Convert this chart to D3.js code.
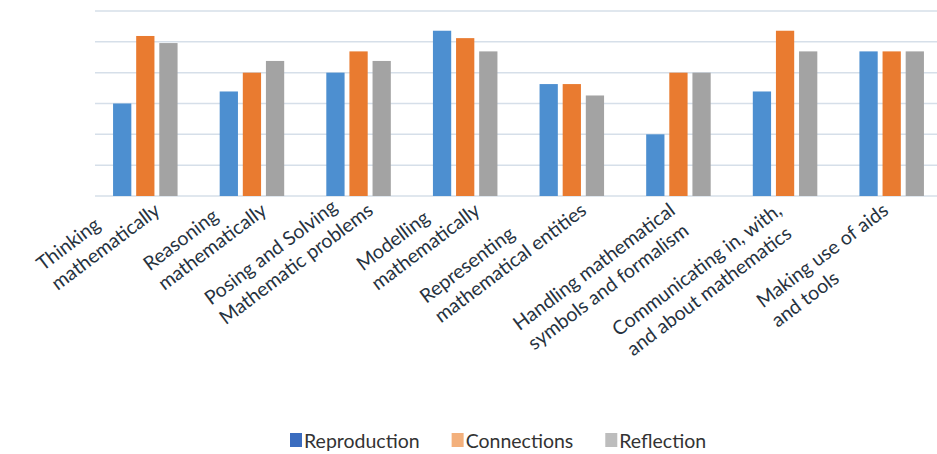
<!DOCTYPE html>
<html>
<head>
<meta charset="utf-8">
<script src="https://cdn.jsdelivr.net/npm/d3@7"></script>
<style>
  body { margin: 0; background: #fff; }
  svg { display: block; font-family: Lato, "Liberation Sans", sans-serif; }
</style>
</head>
<body>
<svg id="chart" width="937" height="454"></svg>
<script>
// categories (line breaks as in the original labels)
var categories = [
  "Thinking\nmathematically",
  "Reasoning\nmathematically",
  "Posing and Solving\nMathematic problems",
  "Modelling\nmathematically",
  "Representing\nmathematical entities",
  "Handling mathematical\nsymbols and formalism",
  "Communicating in, with,\nand about mathematics",
  "Making use of aids\nand tools"
];
var seriesNames = ["Reproduction", "Connections", "Reflection"];

// values in gridline units (no axis labels in the original)
var reproduction = [3.0, 3.39, 4.0, 5.36, 3.63, 2.0, 3.39, 4.69];
var connections  = [5.19, 4.0, 4.69, 5.12, 3.63, 4.0, 5.36, 4.69];
var reflection   = [4.96, 4.38, 4.38, 4.69, 3.26, 4.0, 4.69, 4.69];
var gridTicks = [0, 1, 2, 3, 4, 5, 6];

var barColors = ["#4d8fd0", "#e97b30", "#a3a3a3"];
var legendColors = ["#3a6cbf", "#f3b07c", "#bdbdbd"];

var svg = d3.select("#chart");
var W = 937, H = 454;

var x0 = d3.scaleBand()
    .domain(d3.range(categories.length))
    .range([92, 945])
    .paddingInner(0.395)
    .paddingOuter(0.1975);

var x1 = d3.scaleBand()
    .domain(seriesNames)
    .range([0, x0.bandwidth()])
    .paddingInner(0.21);

var y = d3.scaleLinear()
    .domain([0, 6])
    .range([196, 11]);

// grid lines
svg.append("g").selectAll("line")
    .data(gridTicks)
    .enter().append("line")
    .attr("x1", 95).attr("x2", W)
    .attr("y1", function(d) { return y(d); })
    .attr("y2", function(d) { return y(d); })
    .attr("stroke", "#d6dfe9")
    .attr("stroke-width", 1.5);

var rows = categories.map(function(c, i) {
  return [reproduction[i], connections[i], reflection[i]];
});

var groups = svg.append("g").selectAll("g")
    .data(rows)
    .enter().append("g")
    .attr("transform", function(d, i) { return "translate(" + x0(i) + ",0)"; });

groups.selectAll("rect")
    .data(function(d) { return d.map(function(v, k) { return { k: k, v: v }; }); })
    .enter().append("rect")
    .attr("x", function(d) { return x1(seriesNames[d.k]); })
    .attr("width", x1.bandwidth())
    .attr("y", function(d) { return y(d.v); })
    .attr("height", function(d) { return y(0) - y(d.v); })
    .attr("fill", function(d) { return barColors[d.k]; });

// rotated two-line category labels, start-aligned,
// the end of the longest line sits just under the category
var angle = -37, lineGap = 24.5;
var labels = svg.append("g")
    .attr("font-size", 19.5)
    .attr("fill", "#26323e");

categories.forEach(function(label, i) {
  var lines = label.split("\n");
  var cx = x0(i) + x0.bandwidth() / 2;
  var g = labels.append("g");
  var texts = lines.map(function(t) { return g.append("text").text(t); });
  var lens = texts.map(function(t) { return t.node().getComputedTextLength(); });
  var k = lens[1] > lens[0] ? 1 : 0;
  var lmax = d3.max(lens);
  var dx = k === 1 ? 16 : -2;
  g.attr("transform", "translate(" + (cx + dx) + ",213) rotate(" + angle + ")");
  texts.forEach(function(t, j) {
    t.attr("x", -lmax).attr("y", (j - k) * lineGap);
  });
});

// legend
var legend = svg.append("g").attr("font-size", 19.5).attr("fill", "#333");
var lx = 290;
seriesNames.forEach(function(name, i) {
  var item = legend.append("g").attr("transform", "translate(" + lx + ",0)");
  item.append("rect")
      .attr("x", 0).attr("y", 433)
      .attr("width", 12).attr("height", 14)
      .attr("fill", legendColors[i]);
  var t = item.append("text").attr("x", 14).attr("y", 448).text(name);
  lx += 14 + t.node().getComputedTextLength() + 32;
});
</script>
</body>
</html>
